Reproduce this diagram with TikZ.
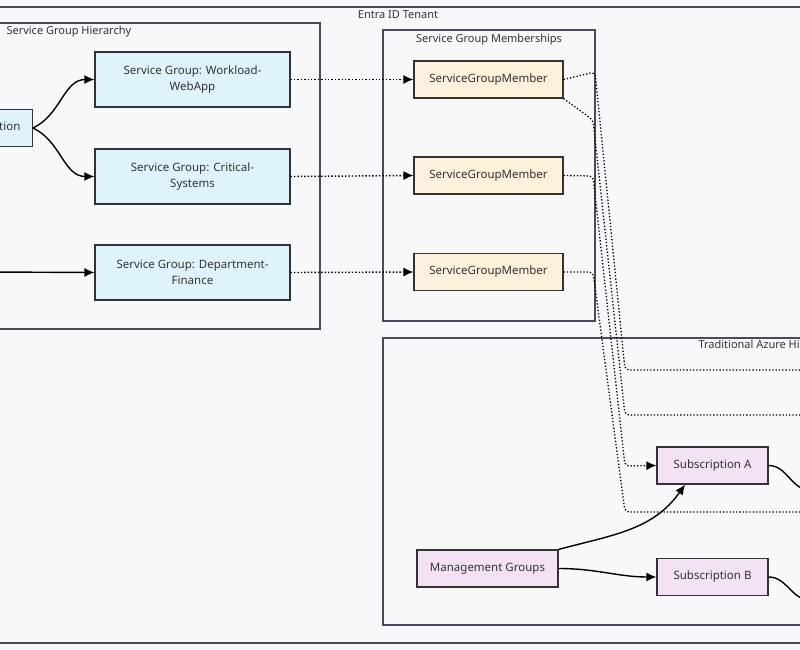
\documentclass[tikz,border=0pt]{standalone}
\usepackage{fontspec}
\setmainfont{Noto Sans}
\usetikzlibrary{positioning, arrows.meta, calc}
\definecolor{pagebg}{HTML}{F8F8FA}
\definecolor{hierfill}{HTML}{DFF3FC}
\definecolor{memfill}{HTML}{FDF1DC}
\definecolor{azfill}{HTML}{F2E2F3}
\definecolor{framec}{HTML}{4A4A5E}
\tikzset{
    box/.style={ % group frames
        draw=framec, line width=1.2pt
    },
    sg/.style={draw=black!80, line width=1.2pt, fill=hierfill, minimum width=195pt,
        minimum height=55pt, align=center, font=\fontsize{11.5}{16}\selectfont, text=black!80},
    mem/.style={draw=black!80, line width=1.2pt, fill=memfill, minimum width=149pt,
        minimum height=37pt, font=\fontsize{11.5}{14}\selectfont, text=black!80},
    az/.style={draw=black!80, line width=1.2pt, fill=azfill, minimum height=37pt,
        font=\fontsize{11.5}{14}\selectfont, text=black!80},
    every edge/.style={ % connectors
        draw, line width=1.4pt, -{Latex[length=10pt,width=9pt]}
    },
    dot/.style={draw, line width=1.3pt, dotted, rounded corners=4pt},
    ttl/.style={font=\fontsize{11}{12}\selectfont, text=black!80},
}
\begin{document}
\begin{tikzpicture}[x=1pt, y=-1pt]
    \useasboundingbox (0,0) rectangle (800,650);
    \clip (0,0) rectangle (800,650);
    \fill[pagebg] (0,0) rectangle (800,650);

    % frames
    \draw[box] (-10,7) rectangle (810,643);
    \node[ttl] (tenant) at (398,15) {Entra ID Tenant};
    \draw[box] (-10,23) rectangle (320,329);
    \node[ttl, anchor=west] (hier) at (3,32) {Service Group Hierarchy};
    \draw[box] (383,30) rectangle (595,321);
    \node[ttl] (memb) at (489,40) {Service Group Memberships};
    \draw[box] (383,338) rectangle (820,625);
    \node[ttl, anchor=west] (trad) at (695,346) {Traditional Azure Hierarchy};

    % service groups
    \node[sg, minimum width=0pt, minimum height=37pt, inner xsep=12pt, anchor=east] (root) at (33,128) {Service Group: Organization};
    \node[sg] (work) at (192.5,79.5) {Service Group: Workload-\\WebApp};
    \node[sg] (crit) at (192.5,176.5) {Service Group: Critical-\\Systems};
    \node[sg] (fin) at (192.5,272.5) {Service Group: Department-\\Finance};
    \coordinate (finsrc) at (-10,272);

    % members
    \node[mem] (m1) at (488.5,79.5) {ServiceGroupMember};
    \node[mem] (m2) at (488.5,175.5) {ServiceGroupMember};
    \node[mem] (m3) at (488.5,272) {ServiceGroupMember};

    % azure
    \node[az, minimum width=141pt] (mg) at (487.5,568.5) {Management Groups};
    \node[az, minimum width=111pt] (suba) at (712.5,465.5) {Subscription A};
    \node[az, minimum width=111pt] (subb) at (712.5,577) {Subscription B};
    \coordinate (outa) at (810,490);
    \coordinate (outb) at (810,600);
    \coordinate (far1) at (810,370);
    \coordinate (far2) at (810,415);
    \coordinate (far3) at (810,512);

    \draw   (root.east) edge[out=25, in=180] (work.west)
            (root.east) edge[out=-25, in=180] (crit.west)
            (finsrc)    edge (fin.west)
            (mg.north east) edge[out=15, in=235] (suba.south west -| 685,0)
            (mg.east)   edge[out=0, in=180] (subb.west)
    ;
    \draw[line width=1.4pt] (suba.east) to[out=0, in=180] (outa);
    \draw[line width=1.4pt] (subb.east) to[out=0, in=180] (outb);

    \path   (work.east) edge[dotted] (m1.west)
            (crit.east) edge[dotted] (m2.west)
            (fin.east)  edge[dotted] (m3.west);

    \draw[dot] (m1.east) -- (595,72) -- (625,370) -- (far1);
    \draw[dot] (m1.south east) -- (593,120) -- (625,415) -- (far2);
    \draw[dot, -{Latex[length=10pt,width=9pt]}] (m2.east) -- (593,176) -- (625,466) -- (suba.west);
    \draw[dot] (m3.east) -- (593,272) -- (625,512) -- (far3);
\end{tikzpicture}
\end{document}
